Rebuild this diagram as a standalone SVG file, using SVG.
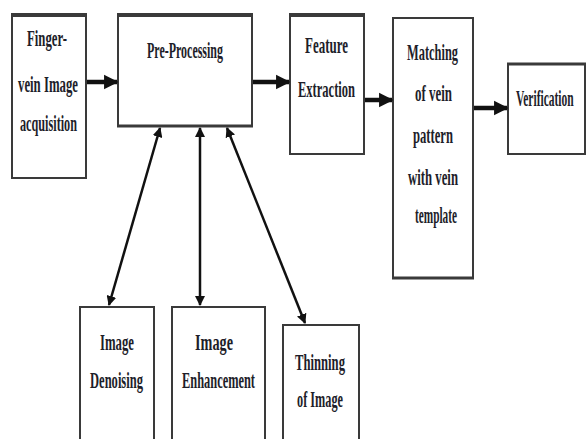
<svg xmlns="http://www.w3.org/2000/svg" width="587" height="439" viewBox="0 0 587 439">
<style>
.box{fill:#fff;stroke:#3a3a3a;stroke-width:2}
.top{stroke:#3a3a3a;stroke-width:4}
.t{font-family:"Liberation Serif",serif;font-size:23px;font-weight:bold;fill:#1e1e2a;text-anchor:start}
.thick{stroke:#111;stroke-width:4.5;fill:none}
.thin{stroke:#111;stroke-width:2.5;fill:none}
</style>
<defs>
<marker id="ah" viewBox="0 0 10 10" refX="9" refY="5" markerWidth="3.2" markerHeight="3.4" orient="auto" markerUnits="strokeWidth">
<path d="M0,0 L10,5 L0,10 z" fill="#111"/>
</marker>
<marker id="sh" viewBox="0 0 10 10" refX="9" refY="5" markerWidth="4" markerHeight="4" orient="auto-start-reverse" markerUnits="strokeWidth">
<path d="M0,0 L10,5 L0,10 z" fill="#111"/>
</marker>
</defs>
<rect width="587" height="439" fill="#fff"/>
<g id="acq">
<rect class="box" x="12" y="15" width="74" height="163"/>
<line class="top" x1="11" y1="15" x2="87" y2="15"/>
<text class="t" x="27" y="46" textLength="40" lengthAdjust="spacingAndGlyphs">Finger-</text>
<text class="t" x="18" y="92" textLength="60" lengthAdjust="spacingAndGlyphs">vein Image</text>
<text class="t" x="20" y="131" textLength="57" lengthAdjust="spacingAndGlyphs">acquisition</text>
</g>
<g id="pre">
<rect class="box" x="118" y="15" width="134" height="111"/>
<line class="top" x1="117" y1="15" x2="253" y2="15"/>
<line class="top" x1="117" y1="126" x2="253" y2="126" style="stroke-width:3"/>
<text class="t" x="147" y="58" textLength="76" lengthAdjust="spacingAndGlyphs">Pre-Processing</text>
</g>
<g id="feat">
<rect class="box" x="290" y="15" width="74" height="139"/>
<line class="top" x1="289" y1="15" x2="365" y2="15"/>
<text class="t" x="305" y="53" textLength="43" lengthAdjust="spacingAndGlyphs">Feature</text>
<text class="t" x="298" y="97" textLength="57" lengthAdjust="spacingAndGlyphs">Extraction</text>
</g>
<g id="match">
<rect class="box" x="393" y="18" width="80" height="260"/>
<line class="top" x1="392" y1="278" x2="474" y2="278" style="stroke-width:3"/>
<text class="t" x="407" y="60" textLength="51" lengthAdjust="spacingAndGlyphs">Matching</text>
<text class="t" x="415" y="101" textLength="37" lengthAdjust="spacingAndGlyphs">of vein</text>
<text class="t" x="413" y="143" textLength="40" lengthAdjust="spacingAndGlyphs">pattern</text>
<text class="t" x="408" y="185" textLength="50" lengthAdjust="spacingAndGlyphs">with vein</text>
<text class="t" x="415" y="223" textLength="42" lengthAdjust="spacingAndGlyphs">template</text>
</g>
<g id="verif">
<rect class="box" x="508" y="64" width="77" height="90"/>
<line class="top" x1="507" y1="64" x2="586" y2="64" style="stroke-width:3"/>
<text class="t" transform="translate(516,106) scale(0.5,1)">Verification</text>
</g>
<g id="denoise">
<rect class="box" x="80" y="307" width="74" height="140"/>
<text class="t" x="100" y="350" textLength="34" lengthAdjust="spacingAndGlyphs">Image</text>
<text class="t" x="90" y="388" textLength="53" lengthAdjust="spacingAndGlyphs">Denoising</text>
</g>
<g id="enhance">
<rect class="box" x="172" y="307" width="93" height="140"/>
<text class="t" x="195" y="350" textLength="38" lengthAdjust="spacingAndGlyphs">Image</text>
<text class="t" x="182" y="388" textLength="73" lengthAdjust="spacingAndGlyphs">Enhancement</text>
</g>
<g id="thin">
<rect class="box" x="283" y="325" width="76" height="120"/>
<text class="t" x="295" y="370" textLength="50" lengthAdjust="spacingAndGlyphs">Thinning</text>
<text class="t" x="297" y="407" textLength="46" lengthAdjust="spacingAndGlyphs">of Image</text>
</g>
<g id="connectors">
<line class="thick" x1="87" y1="82" x2="117" y2="82" marker-end="url(#ah)"/>
<line class="thick" x1="253" y1="82" x2="289" y2="82" marker-end="url(#ah)"/>
<line class="thick" x1="365" y1="100" x2="392" y2="100" marker-end="url(#ah)"/>
<line class="thick" x1="474" y1="108" x2="507" y2="108" marker-end="url(#ah)"/>
<line class="thin" x1="160" y1="128" x2="109" y2="305" marker-start="url(#sh)" marker-end="url(#sh)"/>
<line class="thin" x1="200" y1="128" x2="200" y2="305" marker-start="url(#sh)" marker-end="url(#sh)"/>
<line class="thin" x1="227" y1="128" x2="305" y2="323" marker-start="url(#sh)" marker-end="url(#sh)"/>
</g>
</svg>
